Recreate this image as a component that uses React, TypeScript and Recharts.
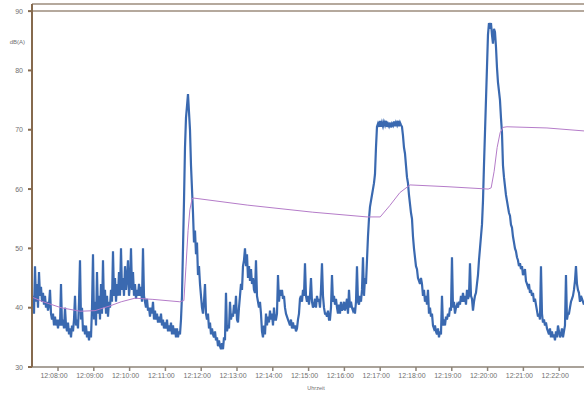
import React from "react";
import { ComposedChart, Line, XAxis, YAxis, ReferenceLine } from "recharts";

// Sound level meter recording, one sample every BLUE_STEP_S seconds starting at BLUE_START_S (seconds after 12:00:00)
const BLUE_START_S = 436.4;
const BLUE_STEP_S = 1.676;
const BLUE_DB: number[] = [
  40, 42, 39, 47, 41, 44, 40, 46, 42, 43.5, 41, 42.5, 40.5, 42, 40, 41, 39.5, 40.5, 43, 39,
  38, 39, 37, 38.5, 37, 38, 36.5, 38, 37, 44, 37, 38, 36.5, 40, 37, 36, 37.5, 35.5, 36.5, 35,
  37, 36, 38, 42, 37, 38, 36.5, 41, 48, 38, 40, 36, 37, 35.5, 37, 35, 36, 34.5, 36, 35,
  40, 49, 38, 41, 37, 46, 39, 42, 38, 44, 39, 48, 40, 43, 39, 42, 38.5, 41, 40, 43,
  41, 49.5, 42, 45, 41, 44, 42, 46, 42, 50, 43, 45, 42, 47, 43, 45, 48, 42, 44, 50,
  43, 46, 42, 44, 41.5, 43, 42, 44, 42, 43.5, 41, 50, 42, 41, 40, 41.5, 39.5, 40, 38.5, 40,
  39, 41, 38, 39.5, 38, 39, 37.5, 38.5, 37.5, 39, 37, 38, 36.5, 37.5, 36.5, 38, 36, 37, 36, 37.5,
  35.5, 37, 35.5, 36.5, 35, 36.5, 35, 36, 35.5, 38, 42, 50, 58, 67, 72, 74, 76, 73, 70, 64,
  60, 56, 51, 53, 49, 51, 45.5, 47, 44, 42, 40, 39, 41, 44, 39, 38, 39, 36.5, 37.5, 35.5,
  36.5, 35.5, 35, 36, 34.5, 35, 33.5, 34.5, 33.5, 33, 34, 33, 35, 34.5, 42.5, 36, 37, 36.5, 41, 38,
  39, 38.5, 40.5, 39, 42, 38, 37.5, 40, 42, 44, 43, 47, 48, 50, 47, 49, 45, 47, 44.5, 46.5,
  44, 45, 43, 42.5, 48, 42, 41, 40, 41, 39, 36, 35, 37, 35.5, 39, 37, 38.5, 37.5, 39.5, 38,
  39, 37, 40, 38, 38, 39, 45.5, 41, 43, 42, 43, 41.5, 42, 40, 39, 38.5, 38, 37.5, 37, 38,
  36.5, 37.5, 36.5, 37, 36, 36.5, 38, 39, 41.5, 42, 41, 43, 42, 47.5, 42, 41, 42, 40.5, 42, 45,
  41, 40, 40.5, 41.5, 40, 42, 41, 41.5, 40, 43, 47.5, 42, 40, 39, 39, 38.5, 39.5, 38, 38, 40,
  45.5, 41, 42, 40.5, 41.5, 40, 39, 40.5, 39, 41, 39.5, 40, 41, 39.5, 40.5, 41.5, 39, 43, 40, 41,
  40, 39.5, 40, 39, 41, 47, 41, 40.5, 42, 41, 43, 48.5, 42, 45, 44, 48, 52, 55, 57, 58,
  59, 60, 61, 62.5, 67, 70.5, 71, 70.5, 71.5, 70.5, 71.2, 70.6, 71.3, 70.8, 71.5, 70.5, 71, 70.6, 71.2, 70.4,
  71, 70.7, 71.4, 70.6, 71.2, 70.8, 71.5, 70.6, 71.2, 70.8, 70.5, 69, 67, 66, 64, 62, 61, 59, 57.5, 56,
  55, 52, 50, 48.5, 47, 46.5, 45, 44.5, 44, 45, 44, 42, 43, 41, 42, 40.5, 43, 39, 40, 38.5,
  39, 37, 36.5, 37, 36, 35.5, 36.5, 35, 36, 35.5, 42, 37, 38, 37, 38.5, 38, 39, 38.5, 40, 39.5,
  48.5, 40, 41, 39, 40, 40.5, 40, 41, 40.5, 42, 41, 42.5, 41, 42, 40.5, 43, 41.5, 42, 47.5, 42,
  41.5, 39.5, 41, 42, 42.5, 44, 45.5, 48, 50, 52, 54, 58, 64, 69.5, 75, 80.5, 86, 88, 87, 88,
  86, 84.5, 87, 86.5, 84, 80.5, 78, 76.5, 75, 72, 69.5, 64, 62, 60.5, 59, 58, 57, 56, 55.5, 54,
  53.5, 52, 51, 50, 49.5, 48.5, 48, 47, 47.5, 46.5, 47, 45.5, 46, 46.5, 44.5, 44, 43.5, 44, 42.5, 43,
  42, 42.5, 41, 41.5, 40.5, 39.5, 38.5, 39, 38, 47, 39, 37.5, 38, 37, 37.5, 36.5, 36, 35.5, 36.5, 35,
  36, 35, 35.5, 34.5, 36, 35, 37, 36, 35, 35.5, 36.5, 35, 36, 37, 45.5, 38, 39, 39, 40, 41,
  41.5, 42, 43, 44.5, 47, 44, 43, 42.5, 41, 42, 41.5, 41, 40.5,
];

// Running Leq (pink/violet line): time (s after 12:00:00) and value dB(A)
const LEQ_T: number[] = [
  436, 455, 485, 517, 542, 567, 586, 609, 639, 684, 691, 694.5, 698, 701, 704.6, 706,
  797, 907, 998, 1020, 1036, 1053, 1070, 1132, 1201, 1206, 1211, 1216, 1221, 1226, 1232.5, 1299.5, 1361.6,
];
const LEQ_DB: number[] = [
  41.8, 41.0, 40.0, 39.4, 39.5, 40.3, 41.0, 41.6, 41.4, 41.0, 41.2, 47, 53, 56.5, 58.3, 58.5,
  57.3, 56.1, 55.3, 55.3, 57.2, 59.4, 60.7, 60.4, 60.0, 60.2, 63, 67, 69.5, 70.4, 70.5, 70.3, 69.8,
];

const X_TICKS: number[] = [480, 540, 600, 660, 720, 780, 840, 900, 960, 1020, 1080, 1140, 1200, 1260, 1320];
const Y_TICKS: number[] = [30, 40, 50, 60, 70, 80, 90];

const blueData = BLUE_DB.map((v, i) => ({ t: BLUE_START_S + i * BLUE_STEP_S, level: v }));
const leqData = LEQ_T.map((t, i) => ({ t, leq: LEQ_DB[i] }));

const fmtTime = (s: number) => {
  const m = Math.round(s / 60);
  return `12:${String(m).padStart(2, "0")}:00`;
};

const FONT = "'Liberation Sans', Arial, sans-serif";
const TXT = "#707070";

const XTick = (props: any) => {
  const { x, y, payload } = props;
  return (
    <text x={x - 4} y={y + 4} fontSize={7} fill={TXT} fontFamily={FONT} textAnchor="middle">
      {fmtTime(payload.value)}
    </text>
  );
};

const YTick = (props: any) => {
  const { x, y, payload } = props;
  return (
    <text x={x} y={y + 2.5} fontSize={7} fill={TXT} fontFamily={FONT} textAnchor="end">
      {payload.value}
    </text>
  );
};

export default function App() {
  return (
    <div style={{ position: "absolute", left: 0, top: 0, width: 584, height: 395, background: "#fff" }}>
      <ComposedChart width={584} height={395} margin={{ top: 4, right: 0, bottom: 0, left: 0 }}>
        <XAxis
          type="number"
          dataKey="t"
          domain={[436.4, 1361.6]}
          allowDataOverflow
          ticks={X_TICKS}
          height={28}
          tickSize={4}
          tickMargin={3}
          interval={0}
          stroke="#8d8377"
          strokeWidth={1.5}
          tick={<XTick />}
          label={{
            content: () => (
              <text x={316} y={390} fontSize={5.5} fill={TXT} fontFamily={FONT} textAnchor="middle">
                Uhrzeit
              </text>
            ),
          }}
        />
        <YAxis
          type="number"
          domain={[30, 91.2]}
          allowDataOverflow
          ticks={Y_TICKS}
          width={32}
          tickSize={4}
          tickMargin={5}
          interval={0}
          stroke="#866a4e"
          strokeWidth={2}
          tick={<YTick />}
          label={{
            content: () => (
              <text x={25} y={44} fontSize={6} fill={TXT} fontFamily={FONT} textAnchor="end">
                dB(A)
              </text>
            ),
          }}
        />
        <ReferenceLine y={91.2} stroke="#9c8c7c" strokeWidth={1.5} />
        <ReferenceLine y={90} stroke="#9c8c7c" strokeWidth={1.5} />
        <Line
          data={blueData}
          dataKey="level"
          type="linear"
          stroke="#3a69b0"
          strokeWidth={2.2}
          dot={false}
          isAnimationActive={false}
        />
        <Line
          data={leqData}
          dataKey="leq"
          type="linear"
          stroke="#b57cc9"
          strokeWidth={1}
          dot={false}
          isAnimationActive={false}
        />
      </ComposedChart>
    </div>
  );
}
